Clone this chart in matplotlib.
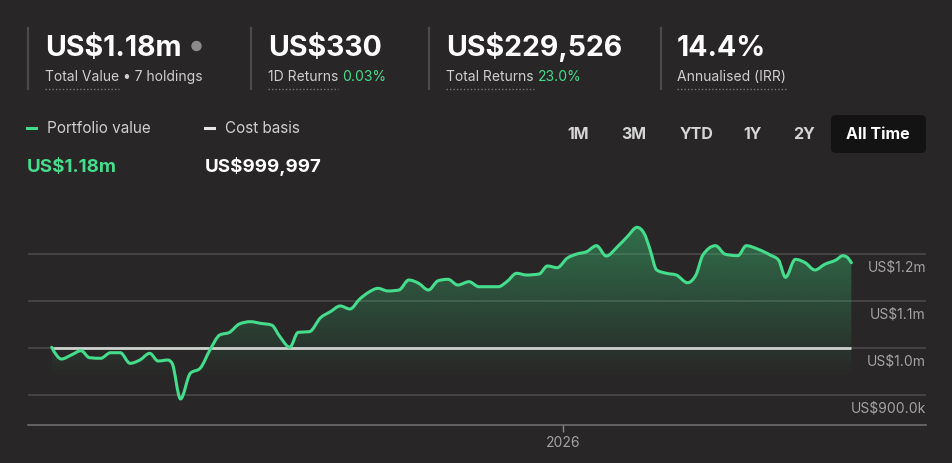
import numpy as np
import matplotlib
matplotlib.use('Agg')
import matplotlib.pyplot as plt
import matplotlib.dates as mdates
import matplotlib.transforms as mtransforms
from matplotlib.patches import FancyBboxPatch, Circle, PathPatch
from matplotlib.path import Path
from matplotlib.lines import Line2D
from matplotlib.colors import to_rgb

# ---------------- data ----------------
start_date = '2025-01-01'
day_offsets = [0, 7, 14, 21, 27, 35, 42, 49, 56, 63, 70, 76, 83, 86, 92, 99, 106, 113,
               120, 127, 134, 142, 149, 157, 163, 170, 176, 184, 192, 199, 206, 213,
               220, 227, 233, 240, 248, 255, 262, 269, 276, 283, 290, 298, 305, 319,
               325, 332, 339, 348, 354, 361, 368, 375, 382, 389, 396, 404, 411, 418,
               423, 427, 432, 439, 446, 454, 460, 465, 474, 481, 490, 496, 504, 513,
               519, 524, 531, 538, 545, 552, 560, 565, 568, 571]
portfolio_k = [1001.5, 976.6, 985.1, 994.3, 979.4, 978.1, 990.0, 990.0, 967.4, 974.5,
               988.7, 972.3, 974.5, 967.4, 891.5, 946.2, 956.8, 995.7, 1027.7, 1033.4,
               1051.1, 1056.0, 1052.6, 1048.9, 1024.0, 1001.5, 1033.4, 1034.7, 1064.5,
               1077.2, 1089.4, 1083.0, 1104.3, 1119.8, 1127.0, 1121.3, 1123.4, 1144.7,
               1137.7, 1123.4, 1143.2, 1146.2, 1134.0, 1141.1, 1130.4, 1130.4, 1141.1,
               1158.9, 1155.3, 1157.4, 1174.5, 1170.9, 1190.9, 1200.0, 1204.9, 1217.7,
               1195.7, 1215.5, 1236.8, 1256.8, 1244.0, 1212.1, 1166.0, 1158.9, 1155.3,
               1138.9, 1155.3, 1197.9, 1217.7, 1199.4, 1196.4, 1217.7, 1210.6, 1197.9,
               1187.2, 1150.4, 1188.7, 1181.5, 1166.0, 1178.1, 1187.2, 1196.4, 1193.0,
               1181.5]
cost_basis_k = 999.997
y_ticks_k = [900, 1000, 1100, 1200]
y_tick_labels = ['US$900.0k', 'US$1.0m', 'US$1.1m', 'US$1.2m']
x_tick_dates = ['2026-01-01']
x_tick_labels = ['2026']

stat_values = ['US$1.18m', 'US$330', 'US$229,526', '14.4%']
stat_labels = ['Total Value', '1D Returns', 'Total Returns', 'Annualised (IRR)']
stat_extras = ['• 7 holdings', '0.03%', '23.0%', '']
legend_names = ['Portfolio value', 'Cost basis']
legend_values = ['US$1.18m', 'US$999,997']
range_buttons = ['1M', '3M', 'YTD', '1Y', '2Y', 'All Time']

# ---------------- style ----------------
W, H = 953, 463
BG = '#282626'
GREEN = '#45dc8c'
FILL = '#3cc878'
WHITE = '#ffffff'
LIGHT = '#cfcfcf'
GREY = '#a3a3a3'
FONT = ['Inter', 'DejaVu Sans']
plt.rcParams['font.family'] = FONT

fig = plt.figure(figsize=(W / 100, H / 100), dpi=100, facecolor=BG)
T = mtransforms.IdentityTransform()


def txt(x, y, s, **kw):
    return fig.text(x, H - y, s, transform=T, **kw)


def monotone_path(x, y):
    """Monotone-X cubic Bezier path through the data points (drawing only)."""
    x = np.asarray(x, float)
    y = np.asarray(y, float)
    h = np.diff(x)
    d = np.diff(y) / h
    n = len(x)
    m = np.zeros(n)
    for i in range(1, n - 1):
        s0, s1, h0, h1 = d[i - 1], d[i], h[i - 1], h[i]
        p = (s0 * h1 + s1 * h0) / (h0 + h1)
        m[i] = (np.sign(s0) + np.sign(s1)) * min(abs(s0), abs(s1), 0.5 * abs(p))
    m[0] = (3 * d[0] - m[1]) / 2
    m[-1] = (3 * d[-1] - m[-2]) / 2
    verts = [(x[0], y[0])]
    codes = [Path.MOVETO]
    for i in range(n - 1):
        dx = h[i] / 3
        verts += [(x[i] + dx, y[i] + m[i] * dx), (x[i + 1] - dx, y[i + 1] - m[i + 1] * dx),
                  (x[i + 1], y[i + 1])]
        codes += [Path.CURVE4] * 3
    return verts, codes


# ---------------- axes ----------------
ax_left, ax_right, ax_top, ax_bottom = 28, 926, 210, 425
ax = fig.add_axes([ax_left / W, (H - ax_bottom) / H, (ax_right - ax_left) / W,
                   (ax_bottom - ax_top) / H])
ax.set_facecolor(BG)

dates = np.datetime64(start_date) + np.array(day_offsets).astype('timedelta64[D]')
xnum = mdates.date2num(dates)
vals = np.array(portfolio_k)
ax.plot(xnum, vals, alpha=0)  # register date units / limits

verts, codes = monotone_path(xnum, vals)
line_path = Path(verts, codes)

fill_floor = 932
fverts = verts + [(xnum[-1], fill_floor), (xnum[0], fill_floor), (xnum[0], vals[0])]
fcodes = codes + [Path.LINETO, Path.LINETO, Path.CLOSEPOLY]
fill_path = Path(fverts, fcodes)
clip_patch = PathPatch(fill_path, facecolor='none', edgecolor='none',
                       transform=ax.transData)
ax.add_patch(clip_patch)

grad = np.zeros((256, 1, 4))
grad[:, :, :3] = to_rgb(FILL)
grad[:, 0, 3] = np.linspace(0.46, 0.0, 256)
im = ax.imshow(grad, extent=[xnum[0], xnum[-1], fill_floor, vals.max() + 5],
               aspect='auto', origin='upper', zorder=1, interpolation='bilinear')
im.set_clip_path(clip_patch)

for yk in y_ticks_k:
    ax.axhline(yk, color='#4a4848', lw=1.2, zorder=0.5)

ax.plot([xnum[0], xnum[-1]], [cost_basis_k, cost_basis_k], color='#cdd2cf',
        lw=2.0, zorder=3, solid_capstyle='butt')
ax.add_patch(PathPatch(line_path, facecolor='none', edgecolor=GREEN, lw=2.2,
                       zorder=4, joinstyle='round', capstyle='round'))

x0 = mdates.date2num(np.datetime64(start_date))
ax.set_xlim(x0 - 16.9, x0 + 624.3)
ax.set_ylim(836.2, 1293.6)

for s in ['top', 'left', 'right']:
    ax.spines[s].set_visible(False)
ax.spines['bottom'].set_color('#6e6c6c')
ax.spines['bottom'].set_linewidth(1.2)
ax.set_yticks([])
ax.set_xticks(mdates.date2num(np.array(x_tick_dates, dtype='datetime64[D]')))
ax.set_xticklabels(x_tick_labels)
ax.tick_params(axis='x', length=5, width=1, color='#8a8a8a', labelcolor=GREY,
               labelsize=10, pad=3)

lab_tr = mtransforms.blended_transform_factory(ax.transAxes, ax.transData)
lab_tr = mtransforms.offset_copy(lab_tr, fig=fig, y=-13.5, units='dots')
for yk, lab in zip(y_ticks_k, y_tick_labels):
    ax.text(1.0, yk, lab, transform=lab_tr, ha='right', va='center',
            color=GREY, fontsize=10)

# ---------------- header stats ----------------
fig.canvas.draw()
renderer = fig.canvas.get_renderer()

sep_x = [28, 251, 429, 661]
text_x = [45, 268, 446, 677]
for i in range(4):
    fig.add_artist(Line2D([sep_x[i], sep_x[i]], [H - 28, H - 89], transform=T,
                          color='#4c4a4a', lw=1.6))
    t = txt(text_x[i], 56, stat_values[i], color=WHITE, fontsize=20.5,
            fontweight='bold', va='baseline', ha='left')
    if i == 0:
        bb = t.get_window_extent(renderer)
        fig.add_artist(Circle((bb.x1 + 15, H - 46), 4.5, transform=T,
                              color='#8c8a8a'))
    lt = txt(text_x[i], 81, stat_labels[i], color=LIGHT, fontsize=10,
             va='baseline', ha='left')
    lb = lt.get_window_extent(renderer)
    fig.add_artist(Line2D([lb.x0, lb.x1], [H - 89, H - 89], transform=T,
                          color='#7a7878', lw=1.0, linestyle=(0, (1, 1.5))))
    if stat_extras[i]:
        col = LIGHT if i == 0 else GREEN
        txt(lb.x1 + 4, 81, stat_extras[i], color=col, fontsize=10,
            va='baseline', ha='left')

# ---------------- legend ----------------
leg_x = [27, 205]
leg_cols = [GREEN, '#e6e6e6']
val_cols = [GREEN, WHITE]
for i in range(2):
    fig.add_artist(Line2D([leg_x[i], leg_x[i] + 9], [H - 128, H - 128], transform=T,
                          color=leg_cols[i], lw=2.2))
    txt(leg_x[i] + 20, 133, legend_names[i], color=LIGHT, fontsize=11,
        va='baseline', ha='left')
    txt(leg_x[i], 172, legend_values[i], color=val_cols[i], fontsize=13.5,
        fontweight='bold', va='baseline', ha='left')

# ---------------- range buttons ----------------
btn_cx = [578, 634, 697, 753, 804, 878]
fig.add_artist(FancyBboxPatch((831, H - 153), 95, 38,
                              boxstyle='round,pad=0,rounding_size=5', transform=T,
                              facecolor='#141313', edgecolor='none'))
for cx, b in zip(btn_cx, range_buttons):
    col = WHITE if b == 'All Time' else '#d6d6d6'
    txt(cx, 139, b, color=col, fontsize=11.5, fontweight='bold',
        va='baseline', ha='center')

fig.savefig('out.png', dpi=100, facecolor=BG)
